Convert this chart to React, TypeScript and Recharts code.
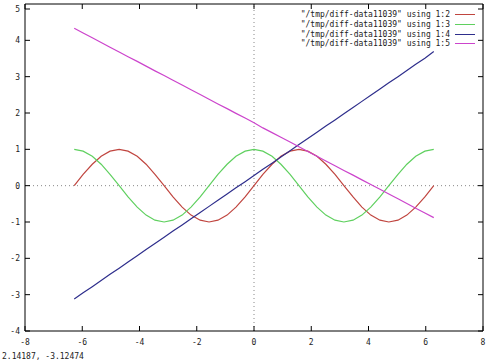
import { LineChart, Line, XAxis, YAxis, ReferenceLine, Legend } from 'recharts'

const FONT = '"DejaVu Sans Mono", "Liberation Mono", monospace'

// column 1 of the data file
const xs = [
  -6.28, -5.97, -5.65, -5.34, -5.03, -4.71, -4.4, -4.08, -3.77, -3.46, -3.14,
  -2.83, -2.51, -2.2, -1.88, -1.57, -1.26, -0.94, -0.63, -0.31, 0,
  0.31, 0.63, 0.94, 1.26, 1.57, 1.88, 2.2, 2.51, 2.83, 3.14,
  3.46, 3.77, 4.08, 4.4, 4.71, 5.03, 5.34, 5.65, 5.97, 6.28,
]
// columns 2..5
const col2 = [
  0, 0.31, 0.59, 0.81, 0.95, 1, 0.95, 0.81, 0.59, 0.31, 0,
  -0.31, -0.59, -0.81, -0.95, -1, -0.95, -0.81, -0.59, -0.31, 0,
  0.31, 0.59, 0.81, 0.95, 1, 0.95, 0.81, 0.59, 0.31, 0,
  -0.31, -0.59, -0.81, -0.95, -1, -0.95, -0.81, -0.59, -0.31, 0,
]
const col3 = [
  1, 0.95, 0.81, 0.59, 0.31, 0, -0.31, -0.59, -0.81, -0.95, -1,
  -0.95, -0.81, -0.59, -0.31, 0, 0.31, 0.59, 0.81, 0.95, 1,
  0.95, 0.81, 0.59, 0.31, 0, -0.31, -0.59, -0.81, -0.95, -1,
  -0.95, -0.81, -0.59, -0.31, 0, 0.31, 0.59, 0.81, 0.95, 1,
]
const col4 = [
  -3.12, -2.95, -2.78, -2.61, -2.44, -2.27, -2.1, -1.93, -1.76, -1.59, -1.42,
  -1.25, -1.08, -0.91, -0.74, -0.57, -0.4, -0.23, -0.06, 0.11, 0.28,
  0.45, 0.62, 0.79, 0.96, 1.13, 1.3, 1.47, 1.64, 1.81, 1.98,
  2.15, 2.32, 2.49, 2.66, 2.83, 3.0, 3.17, 3.34, 3.51, 3.69,
]
const col5 = [
  4.33, 4.2, 4.07, 3.94, 3.81, 3.68, 3.55, 3.42, 3.29, 3.16, 3.03,
  2.9, 2.77, 2.64, 2.51, 2.38, 2.25, 2.12, 1.99, 1.86, 1.73,
  1.59, 1.46, 1.33, 1.2, 1.07, 0.94, 0.81, 0.68, 0.55, 0.42,
  0.29, 0.16, 0.03, -0.1, -0.23, -0.36, -0.49, -0.62, -0.75, -0.88,
]

const xTicks = [-8, -6, -4, -2, 0, 2, 4, 6, 8]
const yTicks = [-4, -3, -2, -1, 0, 1, 2, 3, 4, 5]
const seriesNames = [
  '"/tmp/diff-data11039" using 1:2',
  '"/tmp/diff-data11039" using 1:3',
  '"/tmp/diff-data11039" using 1:4',
  '"/tmp/diff-data11039" using 1:5',
]
const seriesColors = ['#c0453f', '#5fd05f', '#2e2e8c', '#cc44cc']
const statusText = '2.14187, -3.12474'

const data = xs.map((x, i) => ({ x, c2: col2[i], c3: col3[i], c4: col4[i], c5: col5[i] }))

const TICK = 5

function BottomTick({ x, y, payload }: any) {
  return (
    <g>
      <line x1={x} x2={x} y1={y} y2={y - TICK} stroke="#000" />
      <text x={x} y={y + 14} textAnchor="middle" fontSize={8} fontFamily={FONT} fill="#222">{payload.value}</text>
    </g>
  )
}
function TopTick({ x, y }: any) {
  return <line x1={x} x2={x} y1={y} y2={y + TICK} stroke="#000" />
}
function LeftTick({ x, y, payload }: any) {
  return (
    <g>
      <line x1={x} x2={x + TICK} y1={y} y2={y} stroke="#000" />
      <text x={x - 5} y={y + 3} textAnchor="end" fontSize={8} fontFamily={FONT} fill="#222">{payload.value}</text>
    </g>
  )
}
function RightTick({ x, y }: any) {
  return <line x1={x} x2={x - TICK} y1={y} y2={y} stroke="#000" />
}

function KeyBox({ payload }: any) {
  return (
    <div style={{ fontFamily: FONT, fontSize: 8, color: '#222' }}>
      {(payload || []).filter((p: any) => p.type !== 'none').map((p: any) => (
        <div key={p.value} style={{ display: 'flex', justifyContent: 'flex-end', alignItems: 'center', height: 9.7 }}>
          <span style={{ whiteSpace: 'pre' }}>{p.value}</span>
          <span style={{ display: 'inline-block', width: 20, height: 0, borderTop: `1px solid ${p.color}`, marginLeft: 5 }} />
        </div>
      ))}
    </div>
  )
}

export default function App() {
  return (
    <div style={{ position: 'absolute', left: 0, top: 0, width: 500, height: 362, background: '#fff' }}>
      <LineChart width={500} height={362} data={data} margin={{ top: 3, right: 16, left: 0, bottom: 0 }}>
        <XAxis
          xAxisId="b" dataKey="x" type="number" domain={[-8, 8]} ticks={xTicks} allowDataOverflow
          height={31} tickSize={0} tickMargin={0} tick={<BottomTick />} tickLine={false}
          axisLine={{ stroke: '#000' }}
        />
        <XAxis
          xAxisId="t" orientation="top" dataKey="x" type="number" domain={[-8, 8]} ticks={xTicks} allowDataOverflow
          height={1} tickSize={0} tickMargin={0} tick={<TopTick />} tickLine={false}
          axisLine={{ stroke: '#000' }}
        />
        <YAxis
          yAxisId="l" type="number" domain={[-4, 5]} ticks={yTicks} allowDataOverflow
          width={25} tickSize={0} tickMargin={0} tick={<LeftTick />} tickLine={false}
          axisLine={{ stroke: '#000' }}
        />
        <YAxis
          yAxisId="r" orientation="right" type="number" domain={[-4, 5]} ticks={yTicks} allowDataOverflow
          width={1} tickSize={0} tickMargin={0} tick={<RightTick />} tickLine={false}
          axisLine={{ stroke: '#000' }}
        />
        <ReferenceLine xAxisId="b" yAxisId="l" y={0} stroke="#888" strokeDasharray="1 3" />
        <ReferenceLine xAxisId="b" yAxisId="l" x={0} stroke="#888" strokeDasharray="1 3" />
        <Legend
          layout="vertical" align="center" verticalAlign="middle" content={<KeyBox />}
          wrapperStyle={{ top: 10, left: 260, width: 215, height: 40 }}
        />
        {['c2', 'c3', 'c4', 'c5'].map((k, i) => (
          <Line
            key={k} xAxisId="b" yAxisId="l" type="linear" dataKey={k} name={seriesNames[i]}
            stroke={seriesColors[i]} strokeWidth={1.2} dot={false} isAnimationActive={false}
          />
        ))}
        {/* invisible copy bound to the mirror axes so they get drawn */}
        <Line
          xAxisId="t" yAxisId="r" dataKey="c2" stroke="none" dot={false} activeDot={false}
          legendType="none" isAnimationActive={false}
        />
      </LineChart>
      <div style={{ position: 'absolute', left: 2, top: 352, fontFamily: FONT, fontSize: 8, color: '#222' }}>
        {statusText}
      </div>
    </div>
  )
}
